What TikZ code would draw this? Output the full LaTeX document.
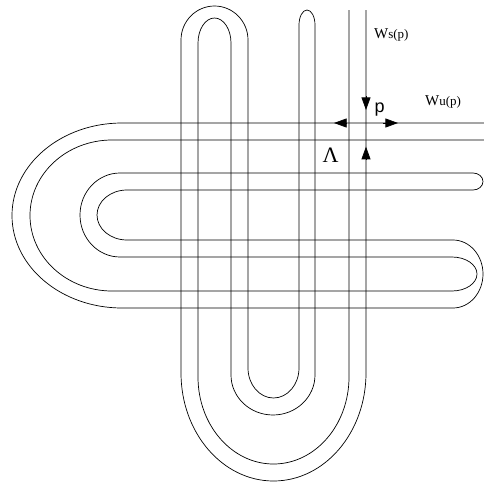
\documentclass[tikz,border=0pt]{standalone}
\usepackage{fontspec}
\setmainfont{Liberation Serif}
\newfontfamily\labsans{Liberation Sans}
\usetikzlibrary{arrows.meta}
\tikzset{
  curve/.style={draw,line width=0.7pt,line join=round},
  tip/.style={draw,line width=0.7pt,-{Triangle[length=12.6pt,width=9pt]}},
  manifold/.style={inner sep=0pt,anchor=base west}
}
\begin{document}
\begin{tikzpicture}[x=1pt,y=-1pt]
\useasboundingbox (0,0) rectangle (484,485);
% stable folds (vertical)
\path[curve] (349,10) -- (349,377)
  arc[start angle=0,end angle=180,x radius=75.5,y radius=87] -- (198,43)
  arc[start angle=180,end angle=360,x radius=16.5,y radius=25] -- (231,375)
  arc[start angle=180,end angle=0,x radius=42,y radius=40] -- (315,25)
  arc[start angle=0,end angle=-180,x radius=8,y radius=15] -- (299,368)
  arc[start angle=0,end angle=180,x radius=25.5,y radius=30] -- (248,40)
  arc[start angle=0,end angle=-180,x radius=33.5,y radius=34] -- (181,373)
  arc[start angle=180,end angle=0,x radius=92.5,y radius=108] -- (366,10);
% unstable folds (horizontal)
\path[curve] (484,123) -- (122,123)
  arc[start angle=-90,end angle=-270,x radius=110,y radius=92.5] -- (453,308)
  arc[start angle=90,end angle=-90,x radius=30,y radius=34] -- (127,240)
  arc[start angle=90,end angle=270,x radius=30,y radius=25] -- (473,190)
  arc[start angle=90,end angle=-90,x radius=10,y radius=8.5] -- (120,173)
  arc[start angle=-90,end angle=-270,x radius=40,y radius=42] -- (452,257)
  arc[start angle=-90,end angle=90,x radius=25,y radius=17] -- (112,291)
  arc[start angle=90,end angle=270,x radius=82,y radius=75.5] -- (484,140);
\coordinate (p) at (366,123);
% arrows at p
\draw[tip] (366,96) -- (366,110);
\draw[tip] (366,160) -- (366,146.7);
\draw[tip] (347,123) -- (334,123);
\draw[tip] (383,123) -- (398,123);
\node[manifold,font=\labsans\fontsize{18}{18}\selectfont] (plab) at (374.5,112) {p};
\node[manifold] (ws) at (374,38.5) {\fontsize{15}{16}\selectfont W\fontsize{13}{14}\selectfont s(p)};
\node[manifold] (wu) at (425,105.7) {\fontsize{15}{16}\selectfont W\fontsize{13}{14}\selectfont u(p)};
\node[manifold,font=\fontsize{22}{22}\selectfont] (lam) at (322.5,162) {Λ};
\end{tikzpicture}
\end{document}
